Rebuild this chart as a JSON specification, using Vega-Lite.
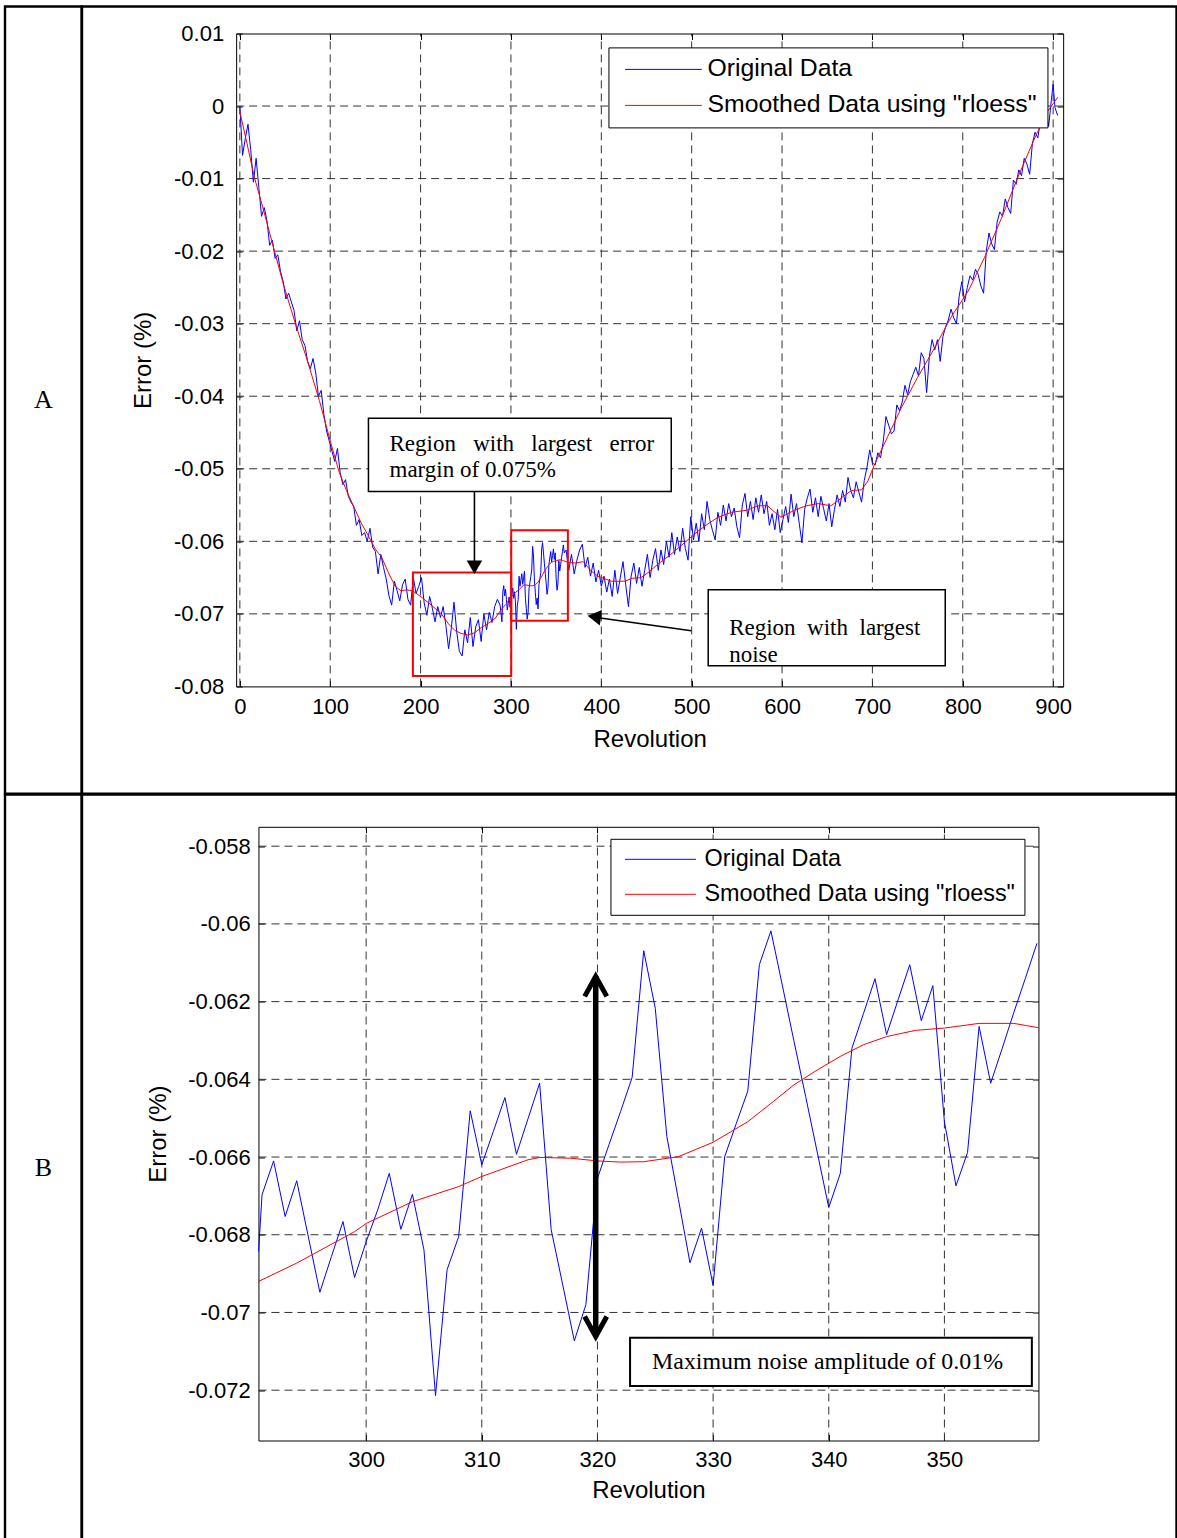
{
  "$schema": "https://vega.github.io/schema/vega-lite/v6.json",
  "background": "white",
  "padding": {"left": 3, "top": 4.5, "right": 0, "bottom": 0},
  "columns": 2,
  "spacing": 0,
  "bounds": "flush",
  "config": {
    "view": {"stroke": "black", "strokeWidth": 2.4, "fill": null},
    "font": "Liberation Sans",
    "axis": {
      "grid": false,
      "domainColor": "black", "domainWidth": 1,
      "tickColor": "black", "tickWidth": 1, "tickSize": -6,
      "labelFont": "Liberation Sans", "labelFontSize": 22, "labelColor": "black",
      "labelFlush": false, "labelOverlap": false, "labelBound": false,
      "titleFont": "Liberation Sans", "titleFontSize": 24, "titleFontWeight": "normal",
      "titleColor": "black", "titleBaseline": "alphabetic"
    }
  },
  "datasets": {
    "original": [
      {"r":0,"e":0},{"r":3,"e":-0.0068},{"r":6,"e":-0.0045},{"r":9,"e":-0.0025},{"r":12,"e":-0.006},
      {"r":15,"e":-0.0105},{"r":18,"e":-0.0072},{"r":21,"e":-0.0112},{"r":24,"e":-0.0152},{"r":27,"e":-0.014},
      {"r":30,"e":-0.0158},{"r":33,"e":-0.0192},{"r":36,"e":-0.0185},{"r":39,"e":-0.021},{"r":42,"e":-0.0205},
      {"r":45,"e":-0.0228},{"r":48,"e":-0.0242},{"r":51,"e":-0.0266},{"r":54,"e":-0.0258},{"r":57,"e":-0.027},
      {"r":60,"e":-0.0282},{"r":63,"e":-0.031},{"r":66,"e":-0.0296},{"r":69,"e":-0.0322},{"r":72,"e":-0.033},
      {"r":75,"e":-0.0352},{"r":78,"e":-0.0362},{"r":81,"e":-0.0348},{"r":84,"e":-0.0368},{"r":87,"e":-0.04},
      {"r":90,"e":-0.0392},{"r":93,"e":-0.0425},{"r":96,"e":-0.0448},{"r":99,"e":-0.0462},{"r":102,"e":-0.0476},
      {"r":105,"e":-0.049},{"r":108,"e":-0.0472},{"r":111,"e":-0.0505},{"r":114,"e":-0.0522},{"r":117,"e":-0.0515},
      {"r":120,"e":-0.0538},{"r":123,"e":-0.0546},{"r":126,"e":-0.0552},{"r":129,"e":-0.0578},{"r":132,"e":-0.057},
      {"r":135,"e":-0.0592},{"r":138,"e":-0.0588},{"r":141,"e":-0.06},{"r":144,"e":-0.0582},{"r":147,"e":-0.0608},
      {"r":150,"e":-0.0614},{"r":153,"e":-0.0645},{"r":156,"e":-0.0618},{"r":159,"e":-0.0636},{"r":162,"e":-0.0652},
      {"r":165,"e":-0.0675},{"r":168,"e":-0.0688},{"r":171,"e":-0.0655},{"r":174,"e":-0.0668},{"r":177,"e":-0.0682},
      {"r":180,"e":-0.066},{"r":183,"e":-0.0652},{"r":186,"e":-0.068},{"r":189,"e":-0.0688},{"r":192,"e":-0.065},
      {"r":195,"e":-0.0672},{"r":198,"e":-0.0662},{"r":201,"e":-0.065},{"r":204,"e":-0.0685},{"r":207,"e":-0.0702},
      {"r":210,"e":-0.0676},{"r":213,"e":-0.0692},{"r":216,"e":-0.0711},{"r":219,"e":-0.069},{"r":222,"e":-0.0705},
      {"r":225,"e":-0.069},{"r":228,"e":-0.0716},{"r":231,"e":-0.0748},{"r":234,"e":-0.072},{"r":237,"e":-0.0684},
      {"r":240,"e":-0.0725},{"r":243,"e":-0.0752},{"r":246,"e":-0.0758},{"r":249,"e":-0.0722},{"r":252,"e":-0.074},
      {"r":255,"e":-0.0705},{"r":258,"e":-0.0745},{"r":261,"e":-0.0718},{"r":264,"e":-0.0708},{"r":267,"e":-0.0738},
      {"r":270,"e":-0.07},{"r":273,"e":-0.0722},{"r":276,"e":-0.0698},{"r":279,"e":-0.0712},{"r":282,"e":-0.069},
      {"r":285,"e":-0.068},{"r":288,"e":-0.0688},
      {"r":290,"e":-0.0711},{"r":290.7,"e":-0.06843},{"r":291,"e":-0.06697},{"r":292,"e":-0.0661},{"r":293,"e":-0.06753},{"r":294,"e":-0.06661},
      {"r":295,"e":-0.06805},{"r":296,"e":-0.06948},{"r":297,"e":-0.06856},{"r":298,"e":-0.06766},{"r":299,"e":-0.0691},
      {"r":300,"e":-0.06818},{"r":301,"e":-0.06736},{"r":302,"e":-0.06642},{"r":303,"e":-0.06786},{"r":304,"e":-0.06696},
      {"r":305,"e":-0.06839},{"r":306,"e":-0.07214},{"r":307,"e":-0.0689},{"r":308,"e":-0.06805},{"r":309,"e":-0.06481},
      {"r":310,"e":-0.0662},{"r":311,"e":-0.06534},{"r":312,"e":-0.06447},{"r":313,"e":-0.06593},{"r":314,"e":-0.06501},
      {"r":315,"e":-0.0641},{"r":316,"e":-0.06787},{"r":317,"e":-0.06929},{"r":318,"e":-0.07073},{"r":319,"e":-0.0698},
      {"r":320,"e":-0.06655},{"r":321,"e":-0.06568},{"r":322,"e":-0.06483},{"r":323,"e":-0.06395},{"r":324,"e":-0.06069},
      {"r":325,"e":-0.06217},{"r":326,"e":-0.06547},{"r":327,"e":-0.06709},{"r":328,"e":-0.06872},{"r":329,"e":-0.06783},
      {"r":330,"e":-0.06931},{"r":331,"e":-0.06599},{"r":332,"e":-0.06514},{"r":333,"e":-0.0643},{"r":334,"e":-0.06105},
      {"r":335,"e":-0.06018},{"r":336,"e":-0.0616},{"r":337,"e":-0.06303},{"r":338,"e":-0.06444},{"r":339,"e":-0.06587},
      {"r":340,"e":-0.0673},{"r":341,"e":-0.06642},{"r":342,"e":-0.0632},{"r":343,"e":-0.06231},{"r":344,"e":-0.06141},
      {"r":345,"e":-0.06285},{"r":346,"e":-0.06195},{"r":347,"e":-0.06105},{"r":348,"e":-0.06249},{"r":349,"e":-0.06159},
      {"r":350,"e":-0.06509},{"r":351,"e":-0.06674},{"r":352,"e":-0.06588},{"r":353,"e":-0.06264},{"r":354,"e":-0.0641},
      {"r":355,"e":-0.0632},{"r":356,"e":-0.06228},{"r":357,"e":-0.0614},{"r":358,"e":-0.0605},{"r":359,"e":-0.0616},
      {"r":361,"e":-0.0612},{"r":364,"e":-0.064},{"r":367,"e":-0.0618},{"r":370,"e":-0.0645},{"r":373,"e":-0.0626},
      {"r":376,"e":-0.0612},{"r":379,"e":-0.0604},{"r":382,"e":-0.0636},{"r":385,"e":-0.0622},{"r":388,"e":-0.0648},
      {"r":391,"e":-0.063},{"r":394,"e":-0.0656},{"r":397,"e":-0.064},{"r":400,"e":-0.0662},{"r":403,"e":-0.0648},
      {"r":406,"e":-0.067},{"r":409,"e":-0.0652},{"r":412,"e":-0.0676},{"r":415,"e":-0.064},{"r":418,"e":-0.0672},
      {"r":421,"e":-0.065},{"r":424,"e":-0.0628},{"r":427,"e":-0.066},{"r":430,"e":-0.069},{"r":433,"e":-0.0648},
      {"r":436,"e":-0.063},{"r":439,"e":-0.0658},{"r":442,"e":-0.0636},{"r":445,"e":-0.0662},{"r":448,"e":-0.064},
      {"r":451,"e":-0.0618},{"r":454,"e":-0.065},{"r":457,"e":-0.0626},{"r":460,"e":-0.061},{"r":463,"e":-0.064},
      {"r":466,"e":-0.0612},{"r":469,"e":-0.0632},{"r":472,"e":-0.06},{"r":475,"e":-0.0622},{"r":478,"e":-0.0588},
      {"r":481,"e":-0.0618},{"r":484,"e":-0.0594},{"r":487,"e":-0.0614},{"r":490,"e":-0.0582},{"r":493,"e":-0.061},
      {"r":496,"e":-0.0626},{"r":499,"e":-0.0566},{"r":502,"e":-0.0598},{"r":505,"e":-0.0575},{"r":508,"e":-0.06},
      {"r":511,"e":-0.0562},{"r":514,"e":-0.0584},{"r":517,"e":-0.0545},{"r":520,"e":-0.057},{"r":523,"e":-0.0585},
      {"r":526,"e":-0.0598},{"r":529,"e":-0.056},{"r":532,"e":-0.0578},{"r":535,"e":-0.055},{"r":538,"e":-0.0572},
      {"r":541,"e":-0.0548},{"r":544,"e":-0.0566},{"r":547,"e":-0.0554},{"r":550,"e":-0.058},{"r":553,"e":-0.0595},
      {"r":556,"e":-0.055},{"r":559,"e":-0.0534},{"r":562,"e":-0.0566},{"r":565,"e":-0.0545},{"r":568,"e":-0.057},
      {"r":571,"e":-0.054},{"r":574,"e":-0.056},{"r":577,"e":-0.0536},{"r":580,"e":-0.0562},{"r":583,"e":-0.0545},
      {"r":586,"e":-0.0578},{"r":589,"e":-0.0562},{"r":592,"e":-0.0584},{"r":595,"e":-0.0556},{"r":598,"e":-0.0588},
      {"r":601,"e":-0.057},{"r":604,"e":-0.0552},{"r":607,"e":-0.0574},{"r":610,"e":-0.0535},{"r":613,"e":-0.0566},
      {"r":616,"e":-0.0548},{"r":619,"e":-0.0575},{"r":622,"e":-0.0602},{"r":625,"e":-0.0556},{"r":628,"e":-0.054},
      {"r":631,"e":-0.0528},{"r":634,"e":-0.056},{"r":637,"e":-0.054},{"r":640,"e":-0.0566},{"r":643,"e":-0.0538},
      {"r":646,"e":-0.0555},{"r":649,"e":-0.0572},{"r":652,"e":-0.0548},{"r":655,"e":-0.058},{"r":658,"e":-0.0556},
      {"r":661,"e":-0.0536},{"r":664,"e":-0.0552},{"r":667,"e":-0.053},{"r":670,"e":-0.0546},{"r":673,"e":-0.0512},
      {"r":676,"e":-0.053},{"r":679,"e":-0.054},{"r":682,"e":-0.0518},{"r":685,"e":-0.0532},{"r":688,"e":-0.0546},
      {"r":691,"e":-0.0516},{"r":694,"e":-0.0498},{"r":697,"e":-0.0474},{"r":700,"e":-0.0492},{"r":703,"e":-0.0495},
      {"r":706,"e":-0.0478},{"r":709,"e":-0.0485},{"r":712,"e":-0.0462},{"r":715,"e":-0.0428},{"r":718,"e":-0.044},
      {"r":721,"e":-0.0452},{"r":724,"e":-0.0448},{"r":727,"e":-0.0412},{"r":730,"e":-0.042},{"r":733,"e":-0.0408},
      {"r":736,"e":-0.0385},{"r":739,"e":-0.0398},{"r":742,"e":-0.038},{"r":745,"e":-0.037},{"r":748,"e":-0.036},
      {"r":751,"e":-0.0372},{"r":754,"e":-0.034},{"r":757,"e":-0.0348},{"r":760,"e":-0.0395},{"r":763,"e":-0.0345},
      {"r":766,"e":-0.0322},{"r":769,"e":-0.0336},{"r":772,"e":-0.0322},{"r":775,"e":-0.0352},{"r":778,"e":-0.0318},
      {"r":781,"e":-0.0304},{"r":784,"e":-0.0295},{"r":787,"e":-0.028},{"r":790,"e":-0.0292},{"r":793,"e":-0.03},
      {"r":796,"e":-0.0262},{"r":799,"e":-0.0242},{"r":802,"e":-0.027},{"r":805,"e":-0.025},{"r":808,"e":-0.0234},
      {"r":811,"e":-0.024},{"r":814,"e":-0.0225},{"r":817,"e":-0.0232},{"r":820,"e":-0.0248},{"r":823,"e":-0.0258},
      {"r":826,"e":-0.02},{"r":829,"e":-0.0175},{"r":832,"e":-0.019},{"r":835,"e":-0.0198},{"r":838,"e":-0.016},
      {"r":841,"e":-0.0146},{"r":844,"e":-0.0152},{"r":847,"e":-0.0128},{"r":850,"e":-0.014},{"r":853,"e":-0.0148},
      {"r":856,"e":-0.0102},{"r":859,"e":-0.0108},{"r":862,"e":-0.0088},{"r":865,"e":-0.0096},{"r":868,"e":-0.0072},
      {"r":871,"e":-0.008},{"r":874,"e":-0.0094},{"r":877,"e":-0.0052},{"r":880,"e":-0.0036},{"r":883,"e":-0.0044},
      {"r":886,"e":-0.002},{"r":889,"e":-0.0012},{"r":892,"e":-0.0004},{"r":895,"e":-0.0028},{"r":898,"e":0.0008},
      {"r":900,"e":0.003},{"r":902,"e":-0.0002},{"r":905,"e":-0.0013}
    ],
    "smoothed": [
      {"r":0,"e":-0.0008},{"r":8,"e":-0.0052},{"r":16,"e":-0.0098},{"r":25,"e":-0.0138},{"r":33,"e":-0.0175},
      {"r":48,"e":-0.0245},{"r":62,"e":-0.0302},{"r":75,"e":-0.0352},{"r":88,"e":-0.0406},{"r":101,"e":-0.0466},
      {"r":110,"e":-0.0505},{"r":118,"e":-0.053},{"r":126,"e":-0.0552},{"r":134,"e":-0.0574},{"r":142,"e":-0.0592},
      {"r":150,"e":-0.0611},{"r":157,"e":-0.0622},{"r":165,"e":-0.0645},{"r":172,"e":-0.0662},{"r":178,"e":-0.0668},
      {"r":185,"e":-0.0667},{"r":191,"e":-0.0668},{"r":201,"e":-0.0677},{"r":212,"e":-0.0688},{"r":223,"e":-0.07},
      {"r":231,"e":-0.0714},{"r":238,"e":-0.0723},{"r":245,"e":-0.0727},{"r":252,"e":-0.0729},{"r":260,"e":-0.0726},
      {"r":267,"e":-0.0719},{"r":275,"e":-0.0713},{"r":282,"e":-0.0707},{"r":290,"e":-0.0693},{"r":290.7,"e":-0.0692},{"r":294,"e":-0.06873},
      {"r":299,"e":-0.06792},{"r":300,"e":-0.06771},{"r":304,"e":-0.06715},{"r":308,"e":-0.06676},{"r":310,"e":-0.0665},
      {"r":314,"e":-0.06607},{"r":315,"e":-0.06601},{"r":317.7,"e":-0.06603},{"r":320,"e":-0.0661},{"r":322,"e":-0.06613},
      {"r":324,"e":-0.06612},{"r":327,"e":-0.06599},{"r":330,"e":-0.06562},{"r":333,"e":-0.06509},{"r":335,"e":-0.06462},
      {"r":337,"e":-0.06414},{"r":339,"e":-0.06376},{"r":341,"e":-0.06341},{"r":343,"e":-0.06311},{"r":345,"e":-0.0629},
      {"r":347.5,"e":-0.06274},{"r":350,"e":-0.06268},{"r":353,"e":-0.06256},{"r":356,"e":-0.06256},{"r":358.1,"e":-0.06267},
      {"r":363,"e":-0.0629},{"r":372,"e":-0.063},{"r":380,"e":-0.0628},{"r":388,"e":-0.064},{"r":396,"e":-0.0648},
      {"r":411,"e":-0.0655},{"r":426,"e":-0.0655},{"r":434,"e":-0.0651},{"r":444,"e":-0.065},{"r":453,"e":-0.0642},
      {"r":463,"e":-0.0631},{"r":477,"e":-0.0618},{"r":492,"e":-0.0602},{"r":507,"e":-0.0586},{"r":518,"e":-0.0576},
      {"r":529,"e":-0.0567},{"r":544,"e":-0.056},{"r":562,"e":-0.0557},{"r":573,"e":-0.0551},{"r":584,"e":-0.0551},
      {"r":592,"e":-0.056},{"r":599,"e":-0.0567},{"r":606,"e":-0.0562},{"r":614,"e":-0.0557},{"r":627,"e":-0.0551},
      {"r":640,"e":-0.0548},{"r":654,"e":-0.0551},{"r":662,"e":-0.0544},{"r":670,"e":-0.0536},{"r":677,"e":-0.053},
      {"r":688,"e":-0.0529},{"r":695,"e":-0.0517},{"r":702,"e":-0.0495},{"r":713,"e":-0.0466},{"r":732,"e":-0.0416},
      {"r":750,"e":-0.0374},{"r":769,"e":-0.0333},{"r":787,"e":-0.0291},{"r":806,"e":-0.0255},{"r":824,"e":-0.0209},
      {"r":843,"e":-0.0154},{"r":861,"e":-0.0098},{"r":880,"e":-0.0043},{"r":894,"e":-0.0007},{"r":905,"e":0.0012}
    ]
  },
  "resolve": {"scale": {"color": "independent"}, "legend": {"color": "independent"}},
  "concat": [
    {
      "width": 76.6,
      "height": 787.2,
      "data": {"values": [{"panel": "A"}]},
      "mark": {"type": "text", "font": "Liberation Serif", "fontSize": 26, "color": "black", "baseline": "middle", "align": "center"},
      "encoding": {
        "x": {"datum": 0, "type": "quantitative", "scale": {"domain": [-1, 1]}, "axis": null},
        "y": {"datum": 0, "type": "quantitative", "scale": {"domain": [-1, 1]}, "axis": null},
        "text": {"field": "panel"}
      }
    },
    {
      "width": 1094.5,
      "height": 787.2,
      "resolve": {"axis": {"x": "independent", "y": "independent"}},
      "layer": [
        {
          "data": {"values": [{"g":0},{"g":100},{"g":200},{"g":300},{"g":400},{"g":500},{"g":600},{"g":700},{"g":800},{"g":900}]},
          "mark": {"type": "rule", "color": "#333333", "strokeDash": [8, 5], "strokeWidth": 1},
          "encoding": {
            "x": {"field": "g", "type": "quantitative", "axis": null},
            "y": {"datum": -0.08, "type": "quantitative", "axis": null},
            "y2": {"datum": 0.01}
          }
        },
        {
          "data": {"values": [{"g":-0.07},{"g":-0.06},{"g":-0.05},{"g":-0.04},{"g":-0.03},{"g":-0.02},{"g":-0.01},{"g":0}]},
          "mark": {"type": "rule", "color": "#333333", "strokeDash": [8, 5], "strokeWidth": 1},
          "encoding": {
            "y": {"field": "g", "type": "quantitative", "axis": null},
            "x": {"datum": -4.09, "type": "quantitative", "axis": null},
            "x2": {"datum": 911.07}
          }
        },
        {
          "data": {"name": "original"},
          "mark": {"type": "line", "strokeWidth": 1},
          "encoding": {
            "x": {
              "field": "r", "type": "quantitative",
              "scale": {"domain": [-4.09, 911.07], "range": [154.15, 981.15], "nice": false, "zero": false},
              "axis": {"orient": "bottom", "offset": -107.3, "values": [0, 100, 200, 300, 400, 500, 600, 700, 800, 900],
                       "labelPadding": 15.8, "title": "Revolution", "titleY": 60.3}
            },
            "y": {
              "field": "e", "type": "quantitative",
              "scale": {"domain": [-0.08, 0.01], "range": [679.9, 27], "nice": false, "zero": false},
              "axis": {"orient": "left", "offset": -154.15,
                       "values": [-0.08, -0.07, -0.06, -0.05, -0.04, -0.03, -0.02, -0.01, 0, 0.01],
                       "labelExpr": "datum.value === 0 ? '0' : (datum.value < 0 ? '-' : '') + format(abs(datum.value), '.2f')",
                       "labelPadding": 18.5, "title": "Error (%)", "titleX": -85.5}
            },
            "color": {
              "datum": "Original Data",
              "scale": {"domain": ["Original Data", "Smoothed Data using \"rloess\""], "range": ["#0000ff", "#ff0000"]},
              "legend": {
                "orient": "none", "legendX": 526.45, "legendY": 40.9, "title": null,
                "strokeColor": "black", "fillColor": "white", "padding": 10,
                "symbolType": "stroke", "symbolSize": 5883, "symbolStrokeWidth": 1, "symbolOffset": 6,
                "clipHeight": 24,
                "labelFont": "Liberation Sans", "labelFontSize": 24.8, "labelColor": "black",
                "labelOffset": 5, "labelLimit": 0, "rowPadding": 11
              }
            }
          }
        },
        {
          "data": {"name": "smoothed"},
          "mark": {"type": "line", "strokeWidth": 1},
          "encoding": {
            "x": {"field": "r", "type": "quantitative",
                  "axis": {"orient": "top", "offset": -27, "values": [0, 100, 200, 300, 400, 500, 600, 700, 800, 900],
                           "labels": false, "title": null}},
            "y": {"field": "e", "type": "quantitative",
                  "axis": {"orient": "right", "offset": -113.35,
                           "values": [-0.08, -0.07, -0.06, -0.05, -0.04, -0.03, -0.02, -0.01, 0, 0.01],
                           "labels": false, "title": null}},
            "color": {"datum": "Smoothed Data using \"rloess\""}
          }
        },
        {
          "data": {"values": [
            {"r1": 191.5, "r2": 300.3, "e1": -0.07855, "e2": -0.0643},
            {"r1": 300.3, "r2": 363.0, "e1": -0.07096, "e2": -0.05846}
          ]},
          "mark": {"type": "rect", "filled": false, "stroke": "#ff0000", "strokeWidth": 2},
          "encoding": {
            "x": {"field": "r1", "type": "quantitative", "axis": null},
            "x2": {"field": "r2"},
            "y": {"field": "e1", "type": "quantitative", "axis": null},
            "y2": {"field": "e2"}
          }
        },
        {
          "data": {"values": [
            {"r1": 142.3, "r2": 477.4, "e1": -0.05314, "e2": -0.04302},
            {"r1": 518.3, "r2": 780.6, "e1": -0.07717, "e2": -0.06669}
          ]},
          "mark": {"type": "rect", "fill": "white", "stroke": "black", "strokeWidth": 1.5},
          "encoding": {
            "x": {"field": "r1", "type": "quantitative", "axis": null},
            "x2": {"field": "r2"},
            "y": {"field": "e1", "type": "quantitative", "axis": null},
            "y2": {"field": "e2"}
          }
        },
        {
          "data": {"values": [
            {"r": 165.6, "e": -0.04753, "t": "Region\u00a0\u00a0\u00a0with\u00a0\u00a0\u00a0largest\u00a0\u00a0\u00a0error"},
            {"r": 165.6, "e": -0.05118, "t": "margin of 0.075%"},
            {"r": 541.5, "e": -0.07289, "t": "Region\u00a0\u00a0with\u00a0\u00a0largest"},
            {"r": 541.5, "e": -0.0766, "t": "noise"}
          ]},
          "mark": {"type": "text", "font": "Liberation Serif", "fontSize": 23, "color": "black", "align": "left", "baseline": "alphabetic"},
          "encoding": {
            "x": {"field": "r", "type": "quantitative", "axis": null},
            "y": {"field": "e", "type": "quantitative", "axis": null},
            "text": {"field": "t"}
          }
        },
        {
          "data": {"values": [
            {"r1": 259.6, "e1": -0.05314, "r2": 259.6, "e2": -0.0632},
            {"r1": 499.5, "e1": -0.07234, "r2": 393.0, "e2": -0.07046}
          ]},
          "mark": {"type": "rule", "color": "black", "strokeWidth": 1.6},
          "encoding": {
            "x": {"field": "r1", "type": "quantitative", "axis": null},
            "y": {"field": "e1", "type": "quantitative", "axis": null},
            "x2": {"field": "r2"},
            "y2": {"field": "e2"}
          }
        },
        {
          "data": {"values": [{"r": 259.6, "e": -0.06358}]},
          "mark": {"type": "point", "shape": "triangle-down", "filled": true, "color": "black", "size": 240, "opacity": 1},
          "encoding": {
            "x": {"field": "r", "type": "quantitative", "axis": null},
            "y": {"field": "e", "type": "quantitative", "axis": null}
          }
        },
        {
          "data": {"values": [{"r": 392.2, "e": -0.07041}]},
          "mark": {"type": "point", "shape": "triangle-down", "filled": true, "color": "black", "size": 240, "opacity": 1, "angle": 98.2},
          "encoding": {
            "x": {"field": "r", "type": "quantitative", "axis": null},
            "y": {"field": "e", "type": "quantitative", "axis": null}
          }
        }
      ]
    },
    {
      "width": 76.6,
      "height": 747.5,
      "data": {"values": [{"panel": "B"}]},
      "mark": {"type": "text", "font": "Liberation Serif", "fontSize": 26, "color": "black", "baseline": "middle", "align": "center"},
      "encoding": {
        "x": {"datum": 0, "type": "quantitative", "scale": {"domain": [-1, 1]}, "axis": null},
        "y": {"datum": 0, "type": "quantitative", "scale": {"domain": [-1, 1]}, "axis": null},
        "text": {"field": "panel"}
      }
    },
    {
      "width": 1094.5,
      "height": 747.5,
      "resolve": {"axis": {"x": "independent", "y": "independent"}},
      "layer": [
        {
          "data": {"values": [{"g":300},{"g":310},{"g":320},{"g":330},{"g":340},{"g":350}]},
          "mark": {"type": "rule", "color": "#333333", "strokeDash": [8, 5], "strokeWidth": 1},
          "encoding": {
            "x": {"field": "g", "type": "quantitative", "axis": null},
            "y": {"datum": -0.073295, "type": "quantitative", "axis": null},
            "y2": {"datum": -0.057501}
          }
        },
        {
          "data": {"values": [{"g":-0.072},{"g":-0.07},{"g":-0.068},{"g":-0.066},{"g":-0.064},{"g":-0.062},{"g":-0.06},{"g":-0.058}]},
          "mark": {"type": "rule", "color": "#333333", "strokeDash": [8, 5], "strokeWidth": 1},
          "encoding": {
            "y": {"field": "g", "type": "quantitative", "axis": null},
            "x": {"datum": 290.69, "type": "quantitative", "axis": null},
            "x2": {"datum": 358.13}
          }
        },
        {
          "data": {"name": "original"},
          "transform": [{"filter": "datum.r >= 290.7 && datum.r <= 358.1"}],
          "mark": {"type": "line", "strokeWidth": 1},
          "encoding": {
            "x": {
              "field": "r", "type": "quantitative",
              "scale": {"domain": [290.69, 358.13], "range": [176.45, 956.45], "nice": false, "zero": false},
              "axis": {"orient": "bottom", "offset": -101.5, "values": [300, 310, 320, 330, 340, 350],
                       "labelPadding": 15, "title": "Revolution", "titleY": 57}
            },
            "y": {
              "field": "e", "type": "quantitative",
              "scale": {"domain": [-0.073295, -0.057501], "range": [646, 32.3], "nice": false, "zero": false},
              "axis": {"orient": "left", "offset": -176.45,
                       "values": [-0.072, -0.07, -0.068, -0.066, -0.064, -0.062, -0.06, -0.058],
                       "labelExpr": "(datum.value < 0 ? '-' : '') + format(abs(datum.value), '.3~f')",
                       "labelPadding": 14.3, "title": "Error (%)", "titleX": -93}
            },
            "color": {
              "datum": "Original Data",
              "scale": {"domain": ["Original Data", "Smoothed Data using \"rloess\""], "range": ["#0000ff", "#ff0000"]},
              "legend": {
                "orient": "none", "legendX": 528.45, "legendY": 44.3, "title": null,
                "strokeColor": "black", "fillColor": "white", "padding": 9,
                "symbolType": "stroke", "symbolSize": 5041, "symbolStrokeWidth": 1, "symbolOffset": 5,
                "clipHeight": 23,
                "labelFont": "Liberation Sans", "labelFontSize": 23.4, "labelColor": "black",
                "labelOffset": 8, "labelLimit": 0, "rowPadding": 11
              }
            }
          }
        },
        {
          "data": {"name": "smoothed"},
          "transform": [{"filter": "datum.r >= 290.7 && datum.r <= 358.1"}],
          "mark": {"type": "line", "strokeWidth": 1},
          "encoding": {
            "x": {"field": "r", "type": "quantitative",
                  "axis": {"orient": "top", "offset": -32.3, "values": [300, 310, 320, 330, 340, 350],
                           "labels": false, "title": null}},
            "y": {"field": "e", "type": "quantitative",
                  "axis": {"orient": "right", "offset": -138.05,
                           "values": [-0.072, -0.07, -0.068, -0.066, -0.064, -0.062, -0.06, -0.058],
                           "labels": false, "title": null}},
            "color": {"datum": "Smoothed Data using \"rloess\""}
          }
        },
        {
          "data": {"values": [{"r": 319.85, "top": -0.06135, "bottom": -0.07062}]},
          "mark": {"type": "rule", "color": "black", "strokeWidth": 5.5},
          "encoding": {
            "x": {"field": "r", "type": "quantitative", "axis": null},
            "y": {"field": "top", "type": "quantitative", "axis": null},
            "y2": {"field": "bottom"}
          }
        },
        {
          "data": {"values": [{"r": 319.85, "top": -0.06135, "bottom": -0.07062}]},
          "mark": {"type": "point", "shape": "M-0.92,1.67L0,0L0.92,1.67", "filled": false, "stroke": "black", "strokeWidth": 5, "size": 576, "opacity": 1, "strokeJoin": "miter"},
          "encoding": {
            "x": {"field": "r", "type": "quantitative", "axis": null},
            "y": {"field": "top", "type": "quantitative", "axis": null}
          }
        },
        {
          "data": {"values": [{"r": 319.85, "top": -0.06135, "bottom": -0.07062}]},
          "mark": {"type": "point", "shape": "M-0.92,-1.67L0,0L0.92,-1.67", "filled": false, "stroke": "black", "strokeWidth": 5, "size": 576, "opacity": 1, "strokeJoin": "miter"},
          "encoding": {
            "x": {"field": "r", "type": "quantitative", "axis": null},
            "y": {"field": "bottom", "type": "quantitative", "axis": null}
          }
        },
        {
          "data": {"values": [{"r1": 322.82, "r2": 357.56, "e1": -0.07189, "e2": -0.07065}]},
          "mark": {"type": "rect", "fill": "white", "stroke": "black", "strokeWidth": 2},
          "encoding": {
            "x": {"field": "r1", "type": "quantitative", "axis": null},
            "x2": {"field": "r2"},
            "y": {"field": "e1", "type": "quantitative", "axis": null},
            "y2": {"field": "e2"}
          }
        },
        {
          "data": {"values": [{"r": 324.72, "e": -0.07145, "t": "Maximum noise amplitude of 0.01%"}]},
          "mark": {"type": "text", "font": "Liberation Serif", "fontSize": 23.9, "color": "black", "align": "left", "baseline": "alphabetic"},
          "encoding": {
            "x": {"field": "r", "type": "quantitative", "axis": null},
            "y": {"field": "e", "type": "quantitative", "axis": null},
            "text": {"field": "t"}
          }
        }
      ]
    }
  ]
}
